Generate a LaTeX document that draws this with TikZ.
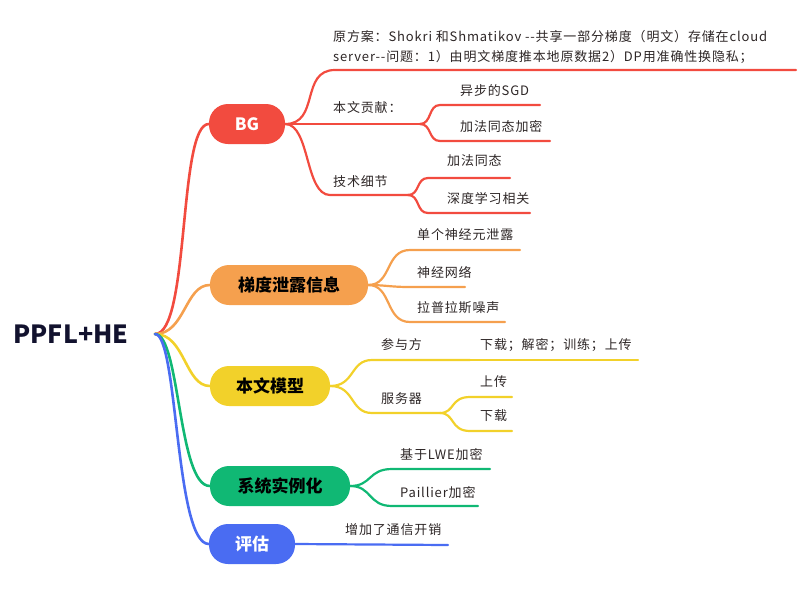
\documentclass[tikz,border=0pt]{standalone}
\usepackage{fontspec}
\setmainfont{Noto Sans CJK SC}
\newfontfamily\lblfont{Noto Sans CJK SC}[LetterSpace=6.5]
\definecolor{cred}{HTML}{F24B3F}
\definecolor{corange}{HTML}{F5A04E}
\definecolor{cyellow}{HTML}{F2D12A}
\definecolor{cgreen}{HTML}{10B874}
\definecolor{cblue}{HTML}{4A6CF2}
\definecolor{ctext}{HTML}{2D2626}
\definecolor{croot}{HTML}{12122E}
\tikzset{
  mainbox/.style={rounded corners=19pt, minimum height=40pt, inner xsep=14pt, font=\fontsize{17}{19}\selectfont\bfseries, text=black},
  lbl/.style={font=\lblfont\fontsize{13}{15}\selectfont, text=ctext, inner sep=0pt, anchor=west},
  br/.style={line width=2.6pt, line cap=round},
  sub/.style={line width=2.2pt, line cap=round},
}
\begin{document}
\begin{tikzpicture}[x=1pt,y=-1pt]
\useasboundingbox (0,0) rectangle (800,590);
% root
\node[font=\fontsize{25}{28}\selectfont\bfseries, text=croot, inner sep=0pt] (root) at (71,334) {PPFL+HE};
\coordinate (rootR) at (155,334);
% main nodes
\node[mainbox, fill=cred, text=white, minimum width=76pt] (bg) at (247,124) {BG};
\node[mainbox, fill=corange, minimum width=158pt] (grad) at (289,285) {梯度泄露信息};
\node[mainbox, fill=cyellow, minimum width=120pt] (model) at (270,386) {本文模型};
\node[mainbox, fill=cgreen, minimum width=140pt] (sys) at (280,486) {系统实例化};
\node[mainbox, fill=cblue, text=white, minimum width=86pt] (eval) at (252,544) {评估};
% root connectors
\draw[br, cred] (rootR) .. controls (190,334) and (178,124) .. (bg.west);
\draw[br, corange] (rootR) .. controls (185,334) and (185,285) .. (grad.west);
\draw[br, cyellow] (rootR) .. controls (185,334) and (185,386) .. (model.west);
\draw[br, cgreen] (rootR) .. controls (180,334) and (178,486) .. (sys.west);
\draw[br, cblue] (rootR) .. controls (178,334) and (175,544) .. (eval.west);

% ===== BG =====
\node[lbl, anchor=north west, align=left, font=\lblfont\fontsize{13}{20}\selectfont] (bgA) at (333,30) {原方案：Shokri 和Shmatikov -{}-共享一部分梯度（明文）存储在cloud\\server-{}-问题：1）由明文梯度推本地原数据2）DP用准确性换隐私；};
\coordinate (bgA0) at (335,70); \coordinate (bgA1) at (796,70);
\draw[sub, cred] (bg.east) .. controls (320,124) and (300,70) .. (bgA0) -- (bgA1);

\node[lbl] (bgB) at (333,108) {本文贡献：};
\coordinate (bgB0) at (420,124);
\draw[sub, cred] (bg.east) -- (bgB0);
\node[lbl] (bgB1) at (460,91) {异步的SGD};
\coordinate (bgB1a) at (440,105); \coordinate (bgB1b) at (540,105);
\draw[sub, cred] (bgB0) .. controls (432,124) and (428,105) .. (bgB1a) -- (bgB1b);
\node[lbl] (bgB2) at (460,127) {加法同态加密};
\coordinate (bgB2a) at (440,141); \coordinate (bgB2b) at (550,141);
\draw[sub, cred] (bgB0) .. controls (432,124) and (428,141) .. (bgB2a) -- (bgB2b);

\node[lbl] (bgC) at (333,182) {技术细节};
\coordinate (bgC0) at (330,195); \coordinate (bgC1) at (408,195);
\draw[sub, cred] (bg.east) .. controls (310,124) and (305,195) .. (bgC0) -- (bgC1);
\node[lbl] (bgC1t) at (447,161) {加法同态};
\coordinate (bgC1a) at (428,178); \coordinate (bgC1b) at (510,178);
\draw[sub, cred] (bgC1) .. controls (420,195) and (416,178) .. (bgC1a) -- (bgC1b);
\node[lbl] (bgC2t) at (447,198) {深度学习相关};
\coordinate (bgC2a) at (428,213); \coordinate (bgC2b) at (530,213);
\draw[sub, cred] (bgC1) .. controls (420,195) and (416,213) .. (bgC2a) -- (bgC2b);

% ===== gradient leakage =====
\node[lbl] (g1) at (417,235) {单个神经元泄露};
\coordinate (g1a) at (410,250); \coordinate (g1b) at (520,250);
\draw[sub, corange] (grad.east) .. controls (392,285) and (385,250) .. (g1a) -- (g1b);
\node[lbl] (g2) at (417,272) {神经网络};
\coordinate (g2a) at (410,287); \coordinate (g2b) at (465,287);
\draw[sub, corange] (grad.east) .. controls (385,285) and (390,287) .. (g2a) -- (g2b);
\node[lbl] (g3) at (417,308) {拉普拉斯噪声};
\coordinate (g3a) at (410,322); \coordinate (g3b) at (505,322);
\draw[sub, corange] (grad.east) .. controls (392,285) and (385,322) .. (g3a) -- (g3b);

% ===== model =====
\node[lbl] (m1) at (381,345) {参与方};
\coordinate (m1a) at (372,360); \coordinate (m1b) at (470,360);
\draw[sub, cyellow] (model.east) .. controls (355,386) and (350,360) .. (m1a) -- (m1b);
\node[lbl] (m1c) at (480,345) {下载；解密；训练；上传};
\coordinate (m1cb) at (638,360);
\draw[sub, cyellow] (m1b) -- (m1cb);
\node[lbl] (m2) at (381,399) {服务器};
\coordinate (m2a) at (372,413); \coordinate (m2b) at (440,413);
\draw[sub, cyellow] (model.east) .. controls (355,386) and (350,413) .. (m2a) -- (m2b);
\node[lbl] (m21) at (480,382) {上传};
\coordinate (m21a) at (470,397); \coordinate (m21b) at (512,397);
\draw[sub, cyellow] (m2b) .. controls (455,413) and (450,397) .. (m21a) -- (m21b);
\node[lbl] (m22) at (480,416) {下载};
\coordinate (m22a) at (470,431); \coordinate (m22b) at (512,431);
\draw[sub, cyellow] (m2b) .. controls (455,413) and (450,431) .. (m22a) -- (m22b);

% ===== system =====
\node[lbl] (s1) at (400,454) {基于LWE加密};
\coordinate (s1a) at (392,469); \coordinate (s1b) at (490,469);
\draw[sub, cgreen] (sys.east) .. controls (372,486) and (368,469) .. (s1a) -- (s1b);
\node[lbl] (s2) at (400,492) {Paillier加密};
\coordinate (s2a) at (392,506); \coordinate (s2b) at (478,506);
\draw[sub, cgreen] (sys.east) .. controls (372,486) and (368,506) .. (s2a) -- (s2b);

% ===== eval =====
\node[lbl] (e1) at (345,530) {增加了通信开销};
\coordinate (e1b) at (448,545);
\draw[sub, cblue] (eval.east) -- (e1b);
\end{tikzpicture}
\end{document}
